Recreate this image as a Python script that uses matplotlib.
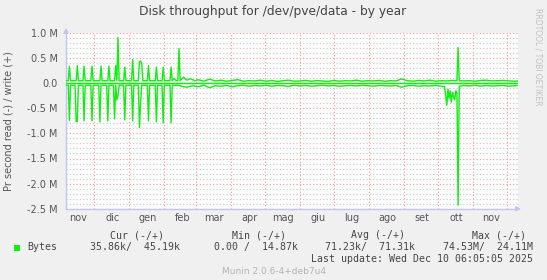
import numpy as np
import matplotlib
matplotlib.use('Agg')
import matplotlib.pyplot as plt

# time window of the munin "by year" graph (400 days)
start = np.datetime64('2024-11-06')
end = np.datetime64('2025-12-11')

month_names = ['nov', 'dic', 'gen', 'feb', 'mar', 'apr', 'mag', 'giu', 'lug', 'ago', 'set', 'ott', 'nov']
month_starts = ['2024-11-01', '2024-12-01', '2025-01-01', '2025-02-01', '2025-03-01', '2025-04-01',
                '2025-05-01', '2025-06-01', '2025-07-01', '2025-08-01', '2025-09-01', '2025-10-01',
                '2025-11-01', '2025-12-01']

y_ticks = [1.0e6, 0.5e6, 0.0, -0.5e6, -1.0e6, -1.5e6, -2.0e6, -2.5e6]
y_tick_labels = ['1.0 M', '0.5 M', '0.0', '-0.5 M', '-1.0 M', '-1.5 M', '-2.0 M', '-2.5 M']

# write (+), kB/s, day offsets from start
write_days = [0, 2, 3, 4, 9, 10, 11, 15, 16, 17, 22, 23, 24, 30, 31, 32, 37, 38, 39, 43, 44, 45, 46, 47,
              51, 52, 53, 58, 59, 60, 64, 65, 66, 67, 68, 72, 73, 74, 79, 80, 81, 85, 86, 87, 92, 93, 94,
              96, 97, 99, 100, 101,
              104, 107, 110, 114, 117, 122, 127, 132, 137, 142, 147, 152, 157, 162, 167, 172, 177, 182,
              187, 192, 197, 202, 207, 212, 217, 222, 227, 232, 237, 242, 247, 252, 257, 262, 267, 272,
              277, 282, 287, 292, 297, 302, 307, 312, 317, 322, 327, 332, 337, 342, 346, 347, 348, 352,
              357, 362, 367, 372, 377, 382, 387, 392, 397, 400]
write_vals = [50, 50, 340, 50, 50, 350, 50, 50, 340, 50, 50, 340, 50, 50, 340, 50, 50, 340, 50, 50, 350, 50, 910, 50,
              50, 320, 50, 50, 470, 50, 50, 430, 440, 400, 50, 50, 350, 50, 50, 320, 50, 50, 320, 50, 50, 320, 50,
              90, 60, 50, 690, 50,
              120, 60, 90, 50, 70, 40, 80, 45, 60, 40, 55, 70, 40, 50, 45, 60, 40, 55,
              35, 50, 60, 40, 45, 55, 40, 50, 45, 35, 55, 40, 50, 45, 60, 40, 50, 45,
              55, 40, 50, 45, 85, 50, 40, 55, 45, 60, 40, 50, 45, 55, 50, 710, 50, 45,
              50, 40, 55, 60, 45, 50, 55, 45, 40, 45]

# read (-), kB/s, day offsets from start
read_days = [0, 2, 3, 4, 8, 9, 10, 11, 15, 16, 17, 22, 23, 24, 29, 30, 31, 36, 37, 38, 42, 43, 44, 45, 46, 47,
             51, 52, 53, 58, 59, 60, 64, 65, 66, 67, 72, 73, 74, 79, 80, 81, 85, 86, 87, 92, 93, 94, 100,
             102, 107, 112, 117, 122, 127, 132, 137, 142, 147, 152, 157, 162, 167, 172, 177, 182, 187,
             192, 197, 202, 207, 212, 217, 222, 227, 232, 237, 242, 247, 252, 257, 262, 267, 272, 277,
             282, 287, 292, 297, 302, 307, 312, 317, 322, 327, 332, 335, 337, 338, 339, 340, 341, 342,
             343, 344, 345, 346, 347, 348, 352, 357, 362, 367, 372, 377, 382, 387, 392, 397, 400]
read_vals = [40, 40, 740, 40, 40, 760, 760, 40, 40, 750, 40, 40, 750, 40, 40, 770, 40, 40, 750, 40, 40, 710, 40, 330, 250, 40,
             40, 730, 40, 40, 750, 40, 40, 880, 400, 40, 40, 750, 40, 40, 770, 40, 40, 790, 40, 40, 790, 40, 40,
             60, 80, 50, 70, 40, 90, 50, 60, 45, 70, 50, 40, 60, 45, 55, 40, 60, 45,
             50, 65, 40, 55, 45, 60, 50, 40, 55, 45, 60, 50, 45, 55, 40, 50, 60, 45,
             50, 55, 45, 80, 50, 45, 60, 50, 55, 45, 60, 70, 440, 120, 300, 150, 380, 180,
             270, 330, 150, 200, 2430, 60, 45, 55, 40, 60, 45, 55, 50, 45, 60, 50, 45]

green = '#11ee11'
W, H = 547, 280

fig = plt.figure(figsize=(W / 100, H / 100), dpi=100, facecolor='#f0f0f0')
ax = fig.add_axes([66 / W, 1 - 208.7 / H, (518 - 66) / W, (208.7 - 33) / H])
ax.set_facecolor('#fbfbfb')

day = np.timedelta64(1, 'D')
wx = start + np.array(write_days) * day
rx = start + np.array(read_days) * day
ax.plot(wx, np.array(write_vals) * 1000, color=green, lw=1.0, zorder=3)
ax.plot(rx, -np.array(read_vals) * 1000, color=green, lw=1.0, zorder=3)
ax.axhline(0, color=green, lw=1.0, zorder=3)

ax.set_xlim(start, end)
ax.set_ylim(-2.5e6, 1.0e6)

# grid: grey every 0.1M, red every 0.5M, red at month starts
for v in np.arange(-25, 11):
    if v % 5 == 0:
        ax.axhline(v * 1e5, color='#e8a0a0', lw=0.8, ls=(0, (1, 2)), zorder=1)
    else:
        ax.axhline(v * 1e5, color='#c8c8c8', lw=0.8, ls=(0, (1, 2)), zorder=1)
for m in month_starts[1:]:
    ax.axvline(np.datetime64(m), color='#e8a0a0', lw=0.8, ls=(0, (1, 2)), zorder=1)

ax.set_yticks(y_ticks)
ax.set_yticklabels(y_tick_labels)
label_pos = [np.datetime64(m) + 16 * day for m in month_starts[:-1]]
ax.set_xticks(label_pos)
ax.set_xticklabels(month_names)
ax.tick_params(axis='both', length=0, labelsize=7, colors='#555555', pad=3)
ax.tick_params(axis='y', pad=6)

for s in ['top', 'right']:
    ax.spines[s].set_visible(False)
for s in ['left', 'bottom']:
    ax.spines[s].set_color('#c4c4f0')
    ax.spines[s].set_linewidth(1.0)

# axis arrows
ax.annotate('', xy=(0, 1.045), xytext=(0, 0.99), xycoords='axes fraction',
            arrowprops=dict(arrowstyle='-|>', color='#c4c4f0', lw=1, mutation_scale=7))
ax.annotate('', xy=(1.013, 0), xytext=(0.99, 0), xycoords='axes fraction',
            arrowprops=dict(arrowstyle='-|>', color='#c4c4f0', lw=1, mutation_scale=7))

fig.text(273 / W, 1 - 12 / H, 'Disk throughput for /dev/pve/data - by year', ha='center', va='center',
         fontsize=8.8, color='#444444')
fig.text(9 / W, 1 - 121 / H, 'Pr second read (-) / write (+)', rotation=90, ha='center', va='center',
         fontsize=7, color='#555555')
fig.text(538 / W, 1 - 8 / H, 'RRDTOOL / TOBI OETIKER', rotation=270, ha='center', va='top',
         fontsize=5.5, color='#c0c0c0')

mono = dict(family='DejaVu Sans Mono', fontsize=7.15, color='#444444', va='center')
fig.text(164 / W, 1 - 235 / H, 'Cur (-/+)', ha='right', **mono)
fig.text(285.5 / W, 1 - 235 / H, 'Min (-/+)', ha='right', **mono)
fig.text(405 / W, 1 - 235 / H, 'Avg (-/+)', ha='right', **mono)
fig.text(526 / W, 1 - 235 / H, 'Max (-/+)', ha='right', **mono)

fig.patches.append(plt.Rectangle((14 / W, 1 - 251 / H), 6 / W, 6 / H, transform=fig.transFigure,
                                 facecolor=green, edgecolor='none'))
fig.text(27 / W, 1 - 247 / H, 'Bytes', ha='left', **mono)
fig.text(180 / W, 1 - 247 / H, '35.86k/  45.19k', ha='right', **mono)
fig.text(298 / W, 1 - 247 / H, '0.00 /  14.87k', ha='right', **mono)
fig.text(415 / W, 1 - 247 / H, '71.23k/  71.31k', ha='right', **mono)
fig.text(533 / W, 1 - 247 / H, '74.53M/  24.11M', ha='right', **mono)
fig.text(533 / W, 1 - 259 / H, 'Last update: Wed Dec 10 06:05:05 2025', ha='right', **mono)

fig.text(274 / W, 1 - 271 / H, 'Munin 2.0.6-4+deb7u4', ha='center', va='center', fontsize=6.5, color='#b4b4b4')

fig.savefig('out.png', dpi=100, facecolor=fig.get_facecolor())
